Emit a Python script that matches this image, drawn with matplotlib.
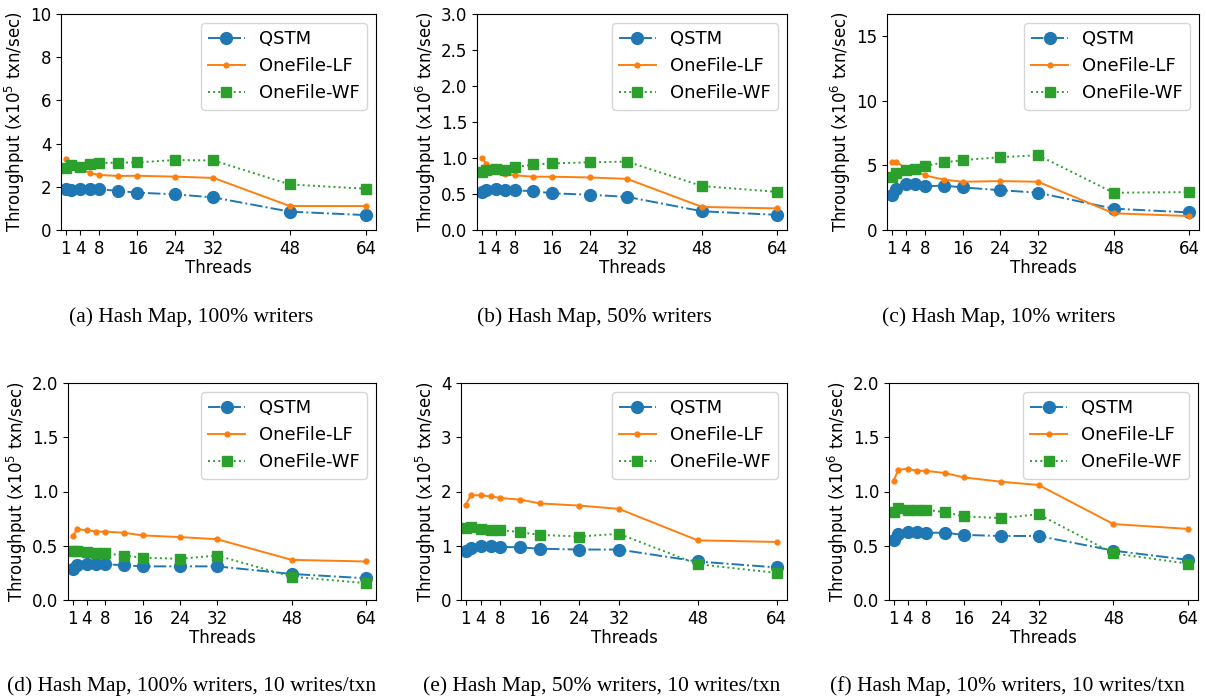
import matplotlib
matplotlib.use('Agg')
import matplotlib.pyplot as plt

threads = [1, 2, 4, 6, 8, 12, 16, 24, 32, 48, 64]
xticks = [1, 4, 8, 16, 24, 32, 48, 64]

# (a) 100% writers, x10^5
a_qstm = [1.88, 1.87, 1.90, 1.90, 1.89, 1.81, 1.73, 1.65, 1.51, 0.85, 0.69]
a_lf = [3.27, 3.00, 2.85, 2.64, 2.55, 2.50, 2.51, 2.47, 2.41, 1.11, 1.11]
a_wf = [2.85, 3.00, 2.93, 3.05, 3.10, 3.12, 3.13, 3.24, 3.22, 2.11, 1.91]

# (b) 50% writers, x10^6
b_qstm = [0.53, 0.55, 0.565, 0.56, 0.55, 0.54, 0.51, 0.49, 0.46, 0.26, 0.21]
b_lf = [1.00, 0.92, 0.86, 0.78, 0.76, 0.74, 0.74, 0.73, 0.71, 0.32, 0.30]
b_wf = [0.80, 0.83, 0.85, 0.84, 0.87, 0.91, 0.925, 0.94, 0.95, 0.61, 0.53]

# (c) 10% writers, x10^6
c_qstm = [2.72, 3.19, 3.52, 3.55, 3.37, 3.44, 3.29, 3.08, 2.88, 1.65, 1.36]
c_lf = [5.27, 5.27, 4.76, 4.60, 4.22, 3.90, 3.73, 3.78, 3.73, 1.29, 1.08]
c_wf = [4.11, 4.42, 4.63, 4.68, 4.96, 5.22, 5.40, 5.63, 5.78, 2.88, 2.93]

# (d) 100% writers, 10 writes/txn, x10^5
d_qstm = [0.29, 0.32, 0.335, 0.335, 0.33, 0.32, 0.31, 0.31, 0.31, 0.24, 0.20]
d_lf = [0.59, 0.65, 0.645, 0.63, 0.63, 0.62, 0.595, 0.58, 0.56, 0.37, 0.355]
d_wf = [0.45, 0.45, 0.44, 0.435, 0.43, 0.41, 0.39, 0.38, 0.41, 0.215, 0.155]

# (e) 50% writers, 10 writes/txn, x10^5
e_qstm = [0.90, 0.96, 1.00, 0.99, 0.98, 0.97, 0.945, 0.93, 0.93, 0.71, 0.60]
e_lf = [1.76, 1.93, 1.93, 1.91, 1.88, 1.85, 1.78, 1.74, 1.68, 1.10, 1.07]
e_wf = [1.33, 1.34, 1.31, 1.29, 1.29, 1.25, 1.20, 1.17, 1.22, 0.66, 0.50]

# (f) 10% writers, 10 writes/txn, x10^6
f_qstm = [0.55, 0.61, 0.63, 0.63, 0.62, 0.62, 0.60, 0.59, 0.59, 0.455, 0.37]
f_lf = [1.10, 1.20, 1.21, 1.19, 1.19, 1.17, 1.13, 1.09, 1.06, 0.70, 0.655]
f_wf = [0.81, 0.85, 0.83, 0.83, 0.83, 0.81, 0.77, 0.755, 0.79, 0.43, 0.335]

captions = ['(a) Hash Map, 100% writers', '(b) Hash Map, 50% writers',
            '(c) Hash Map, 10% writers',
            '(d) Hash Map, 100% writers, 10 writes/txn',
            '(e) Hash Map, 50% writers, 10 writes/txn',
            '(f) Hash Map, 10% writers, 10 writes/txn']

fontsize = 12
plt.rcParams.update({'font.size': fontsize})

W, H = 1206, 698
fig = plt.figure(figsize=(W / 100, H / 100), dpi=100)

# (data, exponent, ylim, yticks, box in px: left, right, top, bottom, caption center x, caption y)
panels = [
    (a_qstm, a_lf, a_wf, 5, 10, [0, 2, 4, 6, 8, 10], '{:g}', (61, 376, 14, 230), 191, 317),
    (b_qstm, b_lf, b_wf, 6, 3.0, [0, 0.5, 1, 1.5, 2, 2.5, 3], '{:.1f}', (477, 787, 14, 230), 594, 317),
    (c_qstm, c_lf, c_wf, 6, 16.7, [0, 5, 10, 15], '{:g}', (887, 1199, 14, 230), 999, 317),
    (d_qstm, d_lf, d_wf, 5, 2.0, [0, 0.5, 1, 1.5, 2], '{:.1f}', (68, 376, 383, 600), 192, 686),
    (e_qstm, e_lf, e_wf, 5, 4, [0, 1, 2, 3, 4], '{:g}', (461, 787, 383, 600), 602, 686),
    (f_qstm, f_lf, f_wf, 6, 2.0, [0, 0.5, 1, 1.5, 2], '{:.1f}', (889, 1198, 383, 600), 1007, 686),
]

for i, (qs, lf, wf, exp, ytop, yt, fmt, box, cx, cy) in enumerate(panels):
    l, r, t, b = box
    ax = fig.add_axes([l / W, 1 - b / H, (r - l) / W, (b - t) / H])
    ax.plot(threads, qs, '-.', marker='o', color='tab:blue', lw=1.4, ms=8.5, label='QSTM')
    ax.plot(threads, lf, '-', marker='o', color='tab:orange', lw=1.4, ms=3.5, label='OneFile-LF')
    ax.plot(threads, wf, ':', marker='s', color='tab:green', lw=1.4, ms=7.5, label='OneFile-WF')
    ax.set_xlim(0, 66.1)
    ax.set_ylim(0, ytop)
    ax.set_xticks(xticks)
    ax.set_yticks(yt)
    ax.set_yticklabels([fmt.format(v) for v in yt])
    ax.set_xlabel('Threads', labelpad=1)
    ax.set_ylabel('Throughput (x10$^{%d}$ txn/sec)' % exp, labelpad=2)
    ax.legend(loc='upper right', fontsize=13)
    fig.text(cx / W, 1 - cy / H, captions[i], ha='center', va='center',
             family='Liberation Serif', fontsize=15.5)

plt.savefig('out.png', dpi=100)
